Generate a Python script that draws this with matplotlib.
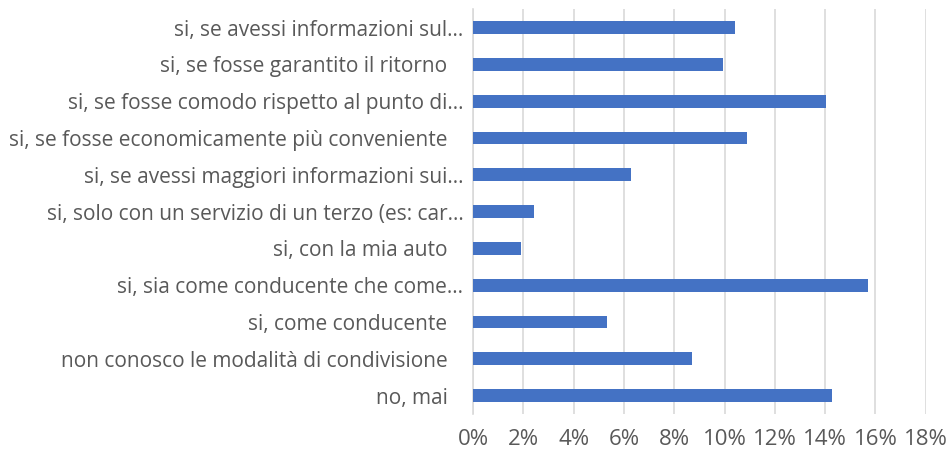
import matplotlib.pyplot as plt
from matplotlib.ticker import FuncFormatter

# risposte dal basso verso l'alto
risposte = [
    'no, mai',
    'non conosco le modalità di condivisione',
    'si, come conducente',
    'si, sia come conducente che come…',
    'si, con la mia auto',
    'si, solo con un servizio di un terzo (es: car…',
    'si, se avessi maggiori informazioni sui…',
    'si, se fosse economicamente più conveniente',
    'si, se fosse comodo rispetto al punto di…',
    'si, se fosse garantito il ritorno',
    'si, se avessi informazioni sul…',
]
percentuali = [14.27, 8.71, 5.31, 15.72, 1.92, 2.41, 6.27, 10.88, 14.02, 9.93, 10.4]
xticks = [0, 2, 4, 6, 8, 10, 12, 14, 16, 18]

plt.rcParams['font.family'] = ['Open Sans', 'DejaVu Sans']

fig = plt.figure(figsize=(9.47, 4.59), dpi=100)
ax = fig.add_axes([0.4995, 0.098, 0.478, 0.882])

pos = list(range(len(risposte)))
ax.barh(pos, percentuali, height=0.35, color='#4472C4', zorder=3)

ax.set_xlim(0, 18)
ax.set_ylim(-0.5, len(risposte) - 0.5)
ax.set_xticks(xticks)
ax.xaxis.set_major_formatter(FuncFormatter(lambda v, p: '%d%%' % v))
ax.set_yticks(pos)
ax.set_yticklabels(risposte)

ax.grid(axis='x', color='#d9d9d9', linewidth=1.2, zorder=0)
for s in ['top', 'right', 'bottom']:
    ax.spines[s].set_visible(False)
ax.spines['left'].set_color('#d9d9d9')
ax.spines['left'].set_linewidth(1.2)

ax.tick_params(axis='both', length=0, labelcolor='#595959')
ax.tick_params(axis='y', pad=7, labelsize=15)
ax.tick_params(axis='x', pad=11, labelsize=16)

# le etichette complete (senza "…") finiscono un po' prima dell'asse
for lab in ax.get_yticklabels():
    if not lab.get_text().endswith('…'):
        lab.set_x(-0.035)

fig.savefig('out.png', dpi=100)
